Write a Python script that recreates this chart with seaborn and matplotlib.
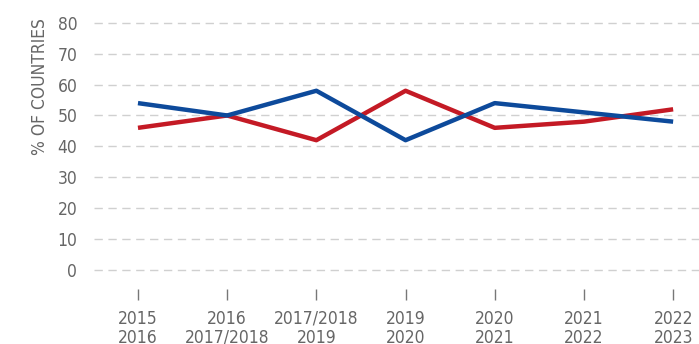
import matplotlib
matplotlib.use("Agg")
import matplotlib.pyplot as plt
import seaborn as sns
import pandas as pd

periods = ["2015\n2016", "2016\n2017/2018", "2017/2018\n2019", "2019\n2020",
           "2020\n2021", "2021\n2022", "2022\n2023"]
blue_values = [54, 50, 58, 42, 54, 51, 48]
red_values = [46, 50, 42, 58, 46, 48, 52]
y_ticks = [0, 10, 20, 30, 40, 50, 60, 70, 80]

BLUE = "#0d4a9b"
RED = "#c41a25"
TEXT = "#666666"

sns.set_theme(style="white")
plt.rcParams["font.family"] = ["DejaVu Sans"]
plt.rcParams["font.stretch"] = "condensed"

df = pd.DataFrame({
    "x": list(range(len(periods))) * 2,
    "value": red_values + blue_values,
    "series": ["red"] * len(periods) + ["blue"] * len(periods),
})

fig = plt.figure(figsize=(6.99, 3.44), dpi=100)
ax = fig.add_axes([94 / 699, 55 / 344, 605 / 699, 275.5 / 344])

sns.lineplot(data=df, x="x", y="value", hue="series",
             palette={"red": RED, "blue": BLUE}, linewidth=3.2,
             legend=False, ax=ax, solid_capstyle="butt")

ax.set_xlim(-0.493, 6.29)
ax.set_ylim(-6.15, 83)
ax.set_yticks(y_ticks)
ax.set_yticklabels([str(v) for v in y_ticks])
ax.set_xticks(range(len(periods)))
ax.set_xticklabels(periods, linespacing=1.05)

for v in y_ticks:
    ax.axhline(v, color="#d0d0d0", lw=1.0, ls=(0, (6, 4)), zorder=0)

for s in ax.spines.values():
    s.set_visible(False)

ax.tick_params(axis="y", left=False, length=0, pad=12, labelsize=12.5,
               labelcolor=TEXT)
ax.tick_params(axis="x", bottom=True, length=8, width=1, color="#777777",
               direction="out", pad=7, labelsize=12.5, labelcolor=TEXT)
ax.set_xlabel("")
ax.set_ylabel("")

fig.text(40 / 699, 1 - 18 / 344, "% OF COUNTRIES", rotation=90, ha="center",
         va="top", fontsize=12.5, color=TEXT)

fig.savefig("out.png", dpi=100)
